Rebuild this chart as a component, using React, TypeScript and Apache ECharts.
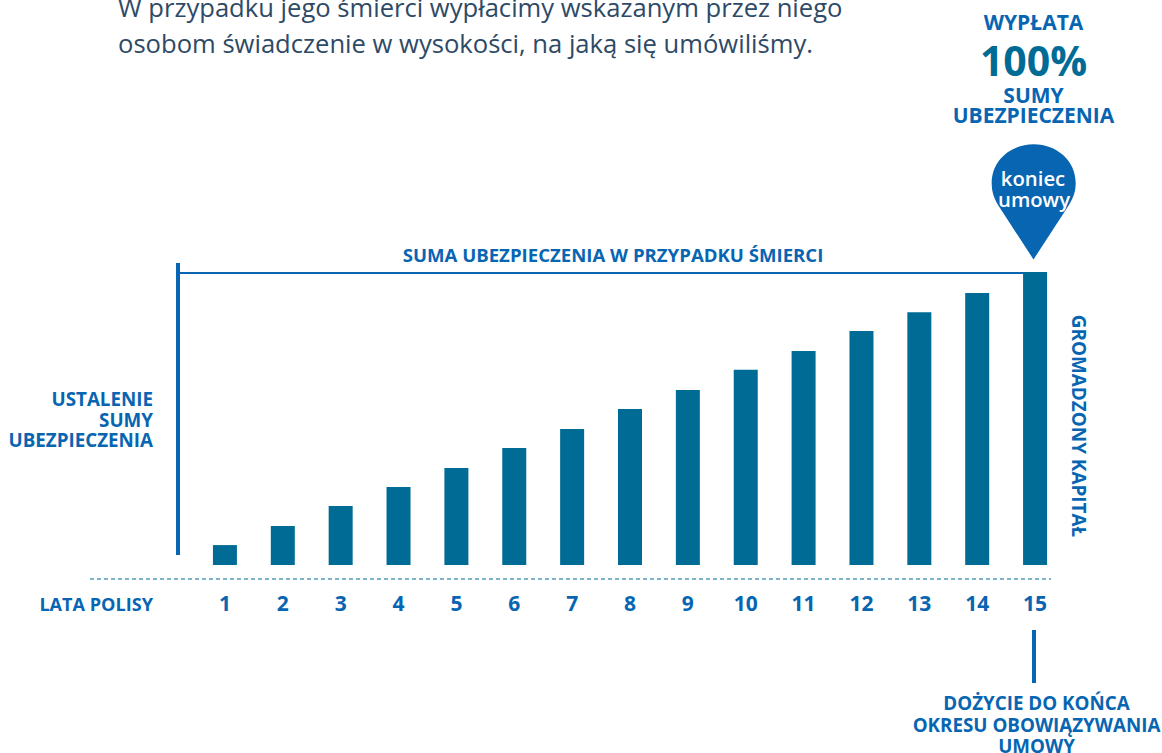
import React, { useEffect, useRef } from "react";
import * as echarts from "echarts";

const years = ["1","2","3","4","5","6","7","8","9","10","11","12","13","14","15"];
const capital = [6.8,13.3,20.1,26.6,33.1,39.9,46.4,53.2,59.7,66.6,73,79.9,86.3,92.8,100];
const introLines = [
  "W przypadku jego śmierci wypłacimy wskazanym przez niego",
  "osobom świadczenie w wysokości, na jaką się umówiliśmy.",
];
const leftLines = ["USTALENIE", "SUMY", "UBEZPIECZENIA"];
const endLines = ["DOŻYCIE DO KOŃCA", "OKRESU OBOWIĄZYWANIA", "UMOWY"];

const BLUE = "#0765b2";
const TEAL = "#006c96";
const FONT = "'Open Sans'";

const PIN = "M1033.5 259.5 L1000 208 C994 199 991.7 192 991.7 183 C991.7 161 1010 144.3 1033.7 144.3 C1057 144.3 1075.7 161 1075.7 183 C1075.7 192 1073 199 1067 208 Z";
echarts.graphic.registerShape("pin", echarts.graphic.extendPath(PIN as any, {}) as any);

const label = (text: string, x: number, y: number, align = "center", size = 18.7, color = BLUE, weight: any = 700, extra: any = {}) => ({
  type: "text", x, y,
  style: { text, fill: color, font: `${weight} ${size}px ${FONT}`, textAlign: align, textVerticalAlign: "middle" },
  ...extra,
});
const rule = (x1: number, y1: number, x2: number, y2: number, lineWidth: number, color = BLUE, lineDash?: number[]) => ({
  type: "line", shape: { x1, y1, x2, y2 }, style: { stroke: color, lineWidth, lineDash },
});

export default function App() {
  const ref = useRef<HTMLDivElement>(null);
  useEffect(() => {
    const chart = echarts.init(ref.current!, null, { renderer: "svg" });
    chart.setOption({
      animation: false,
      grid: { left: 196, top: 272, width: 868, height: 293, containLabel: false },
      xAxis: {
        type: "category", data: years,
        axisLine: { show: false }, axisTick: { show: false },
        axisLabel: { color: BLUE, fontFamily: FONT, fontWeight: 700, fontSize: 21, margin: 27 },
      },
      yAxis: { type: "value", min: 0, max: 100, show: false },
      series: [{ type: "bar", data: capital, barWidth: 24, itemStyle: { color: TEAL } }],
      graphic: [
        ...introLines.map((t, i) => label(t, 118, 7 + i * 36, "left", 25.6, "#2e4a66", 400)),
        label("WYPŁATA", 1033.5, 22, "center", 21),
        label("100%", 1033.5, 60, "center", 41, TEAL),
        label("SUMY", 1033.5, 95, "center", 21),
        label("UBEZPIECZENIA", 1033.5, 115, "center", 21),
        { type: "pin", style: { fill: BLUE } },
        label("koniec", 1033, 178, "center", 20.3, "#ffffff", 600),
        label("umowy", 1034, 199, "center", 20.3, "#ffffff", 600),
        label("SUMA UBEZPIECZENIA W PRZYPADKU ŚMIERCI", 613, 254, "center", 18.6),
        rule(178, 263, 178, 555, 4),
        rule(180, 273, 1024, 273, 2),
        rule(90, 579, 1051, 579, 1, TEAL, [4, 3]),
        ...leftLines.map((t, i) => label(t, 153, 399 + i * 20.5, "right", 18.8)),
        label("LATA POLISY", 153, 604, "right", 18.1),
        label("GROMADZONY KAPITAŁ", 1079, 426, "center", 18.9, BLUE, 700, { rotation: -Math.PI / 2 }),
        rule(1034, 630, 1034, 683, 4),
        ...endLines.map((t, i) => label(t, 1036.5, 703 + i * 21.5, "center", 18.8)),
      ],
    });
    return () => chart.dispose();
  }, []);
  return <div ref={ref} style={{ position: "absolute", left: 0, top: 0, width: 1162, height: 753 }} />;
}
